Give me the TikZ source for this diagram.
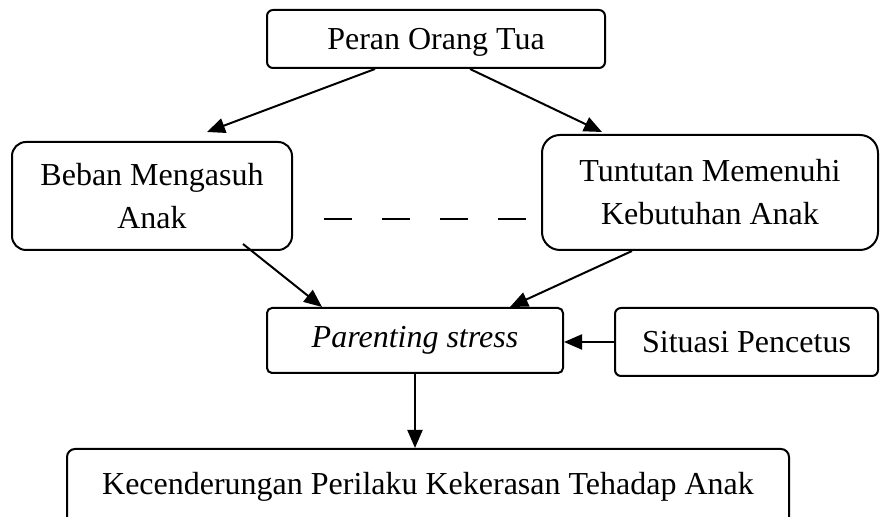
\documentclass[tikz,border=0pt]{standalone}
\usepackage{fontspec}
\setmainfont{Liberation Serif}
\usetikzlibrary{arrows.meta}

\begin{document}
\begin{tikzpicture}[x=0.5pt,y=0.5pt]
\tikzstyle{every node}+=[inner sep=0pt, align=center, font=\fontsize{16}{21.5}\selectfont]
\tikzstyle{kotak}=[draw=black, line width=1pt]
\tikzstyle{panah}=[draw=black, line width=1pt, -{Triangle[length=9pt,width=7.5pt]}]
\useasboundingbox (0,0) rectangle (880,-517);
\node [kotak, rounded corners=3pt, minimum width=169pt, minimum height=29pt, text depth=0pt] (peran) at (436,-39) {Peran Orang Tua};
\node [kotak, rounded corners=7pt, minimum width=140pt, minimum height=54pt] (beban) at (152,-196) {Beban Mengasuh\\Anak};
\node [kotak, rounded corners=9pt, minimum width=168pt, minimum height=57.5pt] (tuntutan) at (710,-192.5) {Tuntutan Memenuhi\\Kebutuhan Anak};
\node [kotak, rounded corners=2.5pt, minimum width=148pt, minimum height=32.5pt] (stres) at (415,-340.5) {\textit{Parenting stress}};
\node [kotak, rounded corners=3pt, minimum width=131.5pt, minimum height=34pt] (situasi) at (746.5,-342) {Situasi Pencetus};
\node [kotak, rounded corners=4pt, minimum width=361pt, minimum height=38pt] (perilaku) at (428,-487) {Kecenderungan Perilaku Kekerasan Tehadap Anak};
\draw [panah] ([shift={(-61,0)}]peran.south) -- ([shift={(55,9)}]beban.north);
\draw [panah] ([shift={(34,0)}]peran.south) -- ([shift={(-108,2)}]tuntutan.north);
\draw [panah] ([shift={(91,7)}]beban.south) -- ([shift={(-93,0)}]stres.north);
\draw [panah] ([shift={(-78,0)}]tuntutan.south) -- ([shift={(95,0)}]stres.north);
\draw [panah] (situasi.west) -- (situasi.west -| stres.east);
\draw [panah] (stres.south) -- (stres.south |- perilaku.north);
\draw [black, line width=1pt, dash pattern=on 14pt off 15pt] ([shift={(31,-23)}]beban.east) -- ([shift={(-15,-26.5)}]tuntutan.west);
\end{tikzpicture}
\end{document}
